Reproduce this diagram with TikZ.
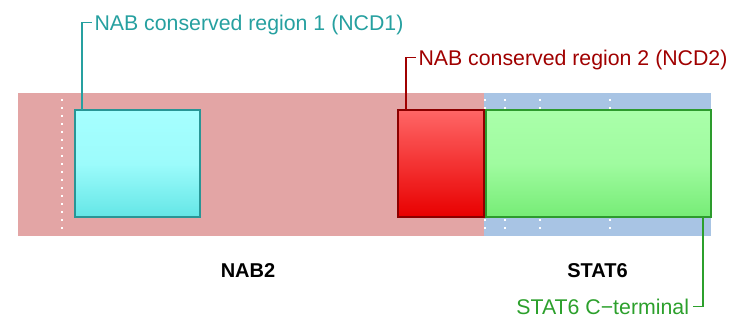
\documentclass[tikz,border=0pt]{standalone}
\usepackage{fontspec}
\setmainfont{Liberation Sans}
\definecolor{bandpink}{RGB}{227,165,165}
\definecolor{bandblue}{RGB}{168,196,228}
\definecolor{cyantop}{RGB}{166,255,255}
\definecolor{cyanbot}{RGB}{100,230,230}
\definecolor{cyanline}{RGB}{40,150,150}
\definecolor{redtop}{RGB}{255,102,102}
\definecolor{redbot}{RGB}{232,0,0}
\definecolor{redline}{RGB}{140,0,0}
\definecolor{greentop}{RGB}{170,255,170}
\definecolor{greenbot}{RGB}{118,236,118}
\definecolor{greenline}{RGB}{45,155,45}
\definecolor{tealtxt}{RGB}{38,160,160}
\definecolor{redtxt}{RGB}{160,0,0}
\definecolor{greentxt}{RGB}{44,160,44}
\tikzset{
  band/.style={draw=none, inner sep=0pt, outer sep=0pt},
  domainbox/.style={inner sep=0pt, outer sep=0pt, line width=1.6pt},
  callout/.style={font=\fontsize{21.3}{25}\selectfont, inner sep=0pt, outer sep=0pt},
  leader/.style={line width=1.3pt},
  dom/.style={font=\fontsize{20}{24}\selectfont\bfseries, inner sep=0pt},
  dots/.style={white, line width=1.6pt, dash pattern=on 1.6pt off 6.4pt}
}
\begin{document}
\begin{tikzpicture}[x=1pt,y=-1pt]
\useasboundingbox (0,0) rectangle (741,326);
% bands
\fill[bandpink] (18,93) rectangle (484,236);
\fill[bandblue] (484,93) rectangle (711,236);
% dotted guides
\draw[dots] (62,99) -- (62,234);
\draw[dots] (485,99) -- (485,234);
\draw[dots] (505,99) -- (505,234);
\draw[dots] (540,99) -- (540,234);
\draw[dots] (610,99) -- (610,234);
% domain boxes
\path[domainbox, draw=cyanline, top color=cyantop, bottom color=cyanbot, middle color=cyantop!85!cyanbot]
  (75,110) rectangle (200,217);
\path[domainbox, draw=redline, top color=redtop, bottom color=redbot]
  (398,110) rectangle (484,217);
\path[domainbox, draw=greenline, top color=greentop, bottom color=greenbot, middle color=greentop!80!greenbot]
  (486,110) rectangle (711,217);
% callout labels
\node[callout, text=tealtxt, anchor=base west] (lab1) at (94.5,30.5) {NAB conserved region 1 (NCD1)};
\node[callout, text=redtxt, anchor=base west] (lab2) at (418.5,65.5) {NAB conserved region 2 (NCD2)};
\node[callout, text=greentxt, anchor=base east] (lab3) at (689,314) {STAT6 C\textminus terminal};
\coordinate (a1) at (82,110);
\coordinate (a2) at (406,110);
\coordinate (a3) at (703,217);
\draw[leader, tealtxt] (a1) |- ([xshift=-3pt,yshift=7.8pt]lab1.base west);
\draw[leader, redtxt] (a2) |- ([xshift=-3pt,yshift=7.8pt]lab2.base west);
\draw[leader, greentxt] (a3) |- ([xshift=4pt,yshift=7.8pt]lab3.base east);
% domain labels
\node[dom] (nab2) at (248,271) {NAB2};
\node[dom] (stat6) at (597.5,271) {STAT6};
\end{tikzpicture}
\end{document}
